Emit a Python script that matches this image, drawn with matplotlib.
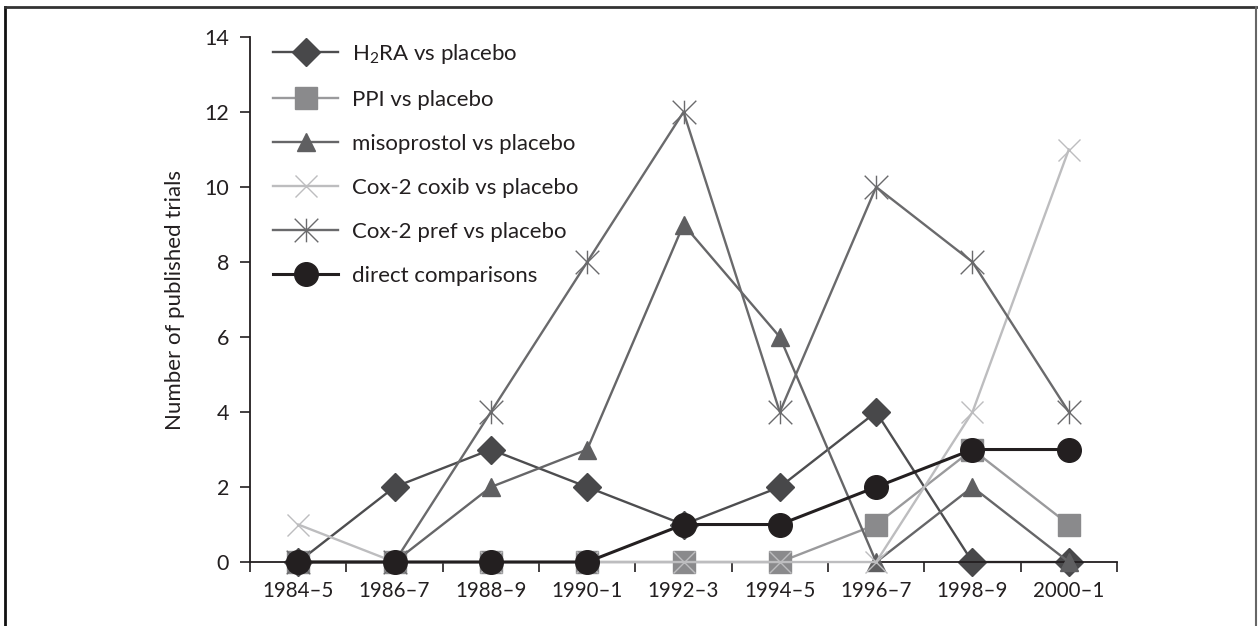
import matplotlib
matplotlib.use("Agg")
import matplotlib.pyplot as plt
from matplotlib.path import Path
from matplotlib.lines import Line2D

plt.rcParams['font.family'] = ['Lato', 'DejaVu Sans']
plt.rcParams['mathtext.fontset'] = 'custom'
plt.rcParams['mathtext.rm'] = 'Lato'
plt.rcParams['mathtext.it'] = 'Lato'

periods = ["1984\u20135", "1986\u20137", "1988\u20139", "1990\u20131", "1992\u20133",
           "1994\u20135", "1996\u20137", "1998\u20139", "2000\u20131"]

h2ra = [0, 2, 3, 2, 1, 2, 4, 0, 0]
ppi = [0, 0, 0, 0, 0, 0, 1, 3, 1]
misoprostol = [0, 0, 2, 3, 9, 6, 0, 2, 0]
cox2_coxib = [1, 0, 0, 0, 0, 0, 0, 4, 11]
cox2_pref = [0, 0, 4, 8, 12, 4, 10, 8, 4]
direct = [0, 0, 0, 0, 1, 1, 2, 3, 3]

series_labels = [r"H$_2$RA vs placebo", "PPI vs placebo", "misoprostol vs placebo",
                 "Cox-2 coxib vs placebo", "Cox-2 pref vs placebo", "direct comparisons"]

# six-spoke asterisk: vertical stroke plus an X
asterisk = Path([(0, -1), (0, 1), (-1, -1), (1, 1), (-1, 1), (1, -1)],
                [Path.MOVETO, Path.LINETO, Path.MOVETO, Path.LINETO, Path.MOVETO, Path.LINETO])

styles = [
    dict(color="#4d4d4f", marker="D", markersize=14, mfc="#48484a", mec="#48484a"),
    dict(color="#9a9a9c", marker="s", markersize=16, mfc="#8a8a8c", mec="#8a8a8c"),
    dict(color="#666668", marker="^", markersize=13, mfc="#5f5f61", mec="#5f5f61"),
    dict(color="#bdbdbf", marker="x", markersize=16, mec="#bdbdbf", mew=1.0),
    dict(color="#6a6a6c", marker=asterisk, markersize=17, mec="#6a6a6c", mew=1.0),
    dict(color="#231f20", marker="o", markersize=17, mfc="#231f20", mec="#231f20"),
]

fig = plt.figure(figsize=(12.59, 6.26), dpi=100)
ax = fig.add_axes([0.1986, 0.1022, 0.6886, 0.8387])

x = list(range(len(periods)))
all_series = [h2ra, ppi, misoprostol, cox2_coxib, cox2_pref, direct]
for i, (vals, lab, st) in enumerate(zip(all_series, series_labels, styles)):
    lw = 2.2 if i == 5 else 1.7
    ax.plot(x, vals, label=lab, linewidth=lw, zorder=2 + i, clip_on=False, **st)

ax.set_xlim(-0.5, len(periods) - 0.5)
ax.set_ylim(0, 14)
ax.set_yticks(range(0, 15, 2))
ax.set_xticks(x)
ax.set_xticklabels(periods)
ax.set_xticks([i + 0.5 for i in range(-1, len(periods))], minor=True)
ax.tick_params(axis="x", which="major", length=0, pad=14, labelsize=14.8, colors="#231f20")
ax.tick_params(axis="x", which="minor", length=7, width=1.2, color="#231f20")
ax.tick_params(axis="y", length=7, width=1.2, pad=8, labelsize=15.5, colors="#231f20")

for side in ("top", "right"):
    ax.spines[side].set_visible(False)
for side in ("left", "bottom"):
    ax.spines[side].set_linewidth(1.3)
    ax.spines[side].set_color("#231f20")

ax.set_ylabel("Number of published trials", fontsize=16, color="#231f20", labelpad=14)

leg = ax.legend(loc="upper left", bbox_to_anchor=(0.0265, 0.991), frameon=False,
                fontsize=16, handlelength=2.93, handletextpad=0.63, labelspacing=1.08,
                borderpad=0, borderaxespad=0)
for t in leg.get_texts():
    t.set_color("#231f20")

# outer frame on left, top and right
fig.add_artist(Line2D([0.004, 0.004], [0, 0.989], transform=fig.transFigure, color="#111111", lw=2))
fig.add_artist(Line2D([0.004, 0.998], [0.989, 0.989], transform=fig.transFigure, color="#333333", lw=2))
fig.add_artist(Line2D([0.998, 0.998], [0, 0.989], transform=fig.transFigure, color="#666666", lw=1.5))

fig.savefig("out.png", dpi=100)
